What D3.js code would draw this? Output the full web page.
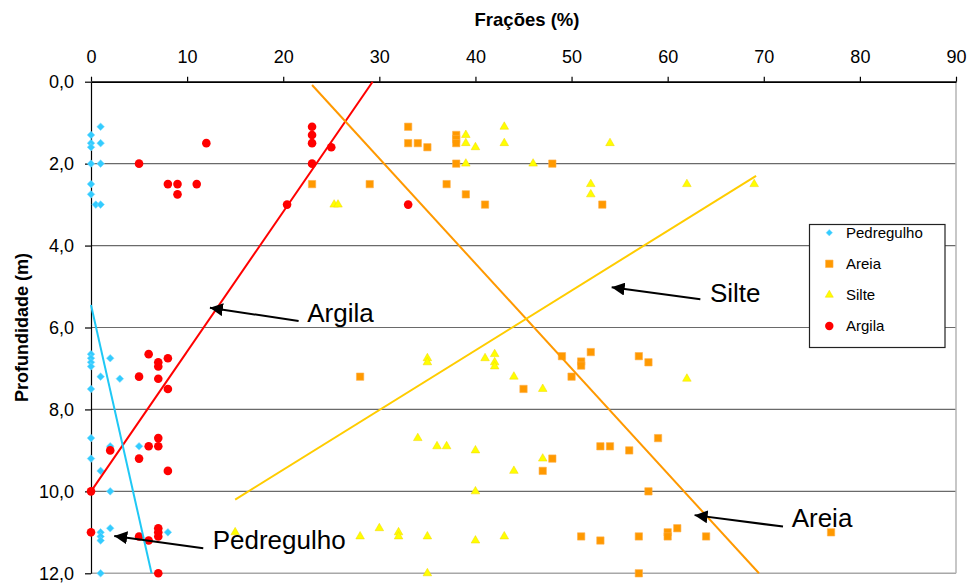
<!DOCTYPE html>
<html><head><meta charset="utf-8">
<script src="https://cdn.jsdelivr.net/npm/d3@7"></script>
<style>
body{margin:0;background:#fff}
svg{display:block;font-family:"Liberation Sans",Arial,Helvetica,sans-serif}
</style>
</head><body>
<svg id="c" width="968" height="583"></svg>
<script>
// ---- data (fraction %, depth m) ----
const xTicks=[0,10,20,30,40,50,60,70,80,90];
const yTicks=[0,2,4,6,8,10,12];
const seriesNames=["Pedregulho","Areia","Silte","Argila"];

const pedregulho=[[1,1.1],[0,1.3],[0,1.5],[1,1.5],[0,1.6],[0,2.0],[1,2.0],[0,2.5],[0,2.75],[0.5,3.0],[1,3.0],
 [0,6.65],[0,6.75],[0,6.85],[0,6.95],[2,6.75],[1,7.2],[3,7.25],[0,7.5],
 [0,8.7],[2,8.9],[5,8.9],[0,9.2],[1,9.5],[2,10.0],
 [2,10.9],[1,11.0],[1,11.1],[1,11.2],[8,11.0],[1,12.0]];

const areia=[[33,1.1],[33,1.5],[34,1.5],[35,1.6],[38,1.3],[38,1.4],[38,1.5],[38,2.0],[48,2.0],[23,2.5],[29,2.5],[37,2.5],[39,2.75],[41,3.0],[53.2,3.0],
 [28,7.2],[49,6.7],[51,6.83],[51,6.93],[52,6.6],[50,7.2],[45,7.5],[57,6.7],[58,6.85],
 [59,8.7],[53,8.9],[54,8.9],[56,9.0],[48,9.2],[47,9.5],[58,10.0],
 [51,11.1],[53,11.2],[57,11.1],[60,11.0],[60,11.1],[61,10.9],[64,11.1],[77,11.0],[57,12.0]];

const silte=[[39,1.3],[39,1.5],[40,1.6],[43,1.1],[43,1.5],[54,1.5],[39,2.0],[46,2.0],[52,2.5],[52,2.75],[62,2.5],[69,2.5],[25.3,3.0],[25.7,3.0],
 [35,6.75],[35,6.85],[41,6.75],[42,6.65],[42,6.85],[42,6.95],[44,7.2],[47,7.5],[62,7.25],
 [34,8.7],[36,8.9],[37,8.9],[40,9.0],[47,9.2],[44,9.5],[40,10.0],
 [15,11.0],[28,11.1],[30,10.9],[32,11.0],[32,11.1],[35,11.1],[40,11.2],[43,11.1],[35,12.0]];

const argila=[[23,1.1],[23,1.3],[23,1.5],[25,1.6],[12,1.5],[5,2.0],[23,2.0],[8,2.5],[9,2.5],[11,2.5],[9,2.75],[20.4,3.0],[33,3.0],
 [6,6.65],[7,6.85],[7,6.95],[8,6.75],[5,7.2],[7,7.25],[8,7.5],
 [7,8.7],[6,8.9],[7,8.9],[2,9.0],[5,9.2],[8,9.5],[0,10.0],
 [0,11.0],[7,10.9],[7,11.0],[7,11.1],[5,11.1],[6,11.2],[7,12.0]];

// trend lines (endpoints)
const lineArgila=[[29.3,0],[0,10]];
const lineAreia=[[23,0.08],[69.5,12]];
const lineSilte=[[15,10.2],[69.2,2.3]];
const linePedregulho=[[0,5.45],[6.3,12]];

// annotations: label, text anchor point, arrow tail, arrow tip
const annLabels=["Argila","Silte","Areia","Pedregulho"];
const annText=[[22.5,5.86],[64.4,5.37],[72.9,10.88],[12.66,11.41]];
const annTail=[[21.6,5.84],[63.4,5.31],[72.0,10.86],[11.68,11.39]];
const annTip=[[12.37,5.52],[54.17,5.02],[62.8,10.58],[2.42,11.09]];

// ---- drawing ----
const svg=d3.select("#c");
const x=d3.scaleLinear().domain([0,90]).range([91,956]);
const y=d3.scaleLinear().domain([0,12]).range([81.7,573.3]);

const colors={Pedregulho:"#33CCFF",Areia:"#FF9900",Silte:"#FFFF00",Argila:"#FF0000"};

// grid lines
svg.append("g").selectAll("line").data(yTicks.filter(d=>d>0&&d<12)).join("line")
 .attr("x1",x(0)).attr("x2",x(90)).attr("y1",d=>y(d)).attr("y2",d=>y(d))
 .attr("stroke","#6a6a6a").attr("stroke-width",1.2);
svg.append("line").attr("x1",x(0)).attr("x2",x(90)).attr("y1",y(12)).attr("y2",y(12))
 .attr("stroke","#a8a8a8").attr("stroke-width",1.5);
svg.append("line").attr("x1",x(90)).attr("x2",x(90)).attr("y1",y(0)).attr("y2",y(12))
 .attr("stroke","#b4b4b4").attr("stroke-width",1.5);

// axes
const xAxis=svg.append("g").attr("transform",`translate(0,${y(0)})`)
 .call(d3.axisTop(x).tickValues(xTicks).tickSize(5).tickSizeOuter(0).tickPadding(14).tickFormat(d3.format("d")));
xAxis.select(".domain").attr("stroke","#000").attr("stroke-width",1.8);
xAxis.selectAll(".tick line").attr("stroke","#000").attr("stroke-width",1.2);
xAxis.selectAll("text").attr("font-size",18).attr("fill","#000").attr("font-family",null);

const yAxis=svg.append("g").attr("transform",`translate(${x(0)},0)`)
 .call(d3.axisLeft(y).tickValues(yTicks).tickSize(6).tickSizeOuter(0).tickPadding(11)
 .tickFormat(d=>d3.format(".1f")(d).replace(".",",")));
yAxis.select(".domain").attr("stroke","#000").attr("stroke-width",1.2);
yAxis.selectAll(".tick line").attr("stroke","#000").attr("stroke-width",1.2);
yAxis.selectAll("text").attr("font-size",18).attr("fill","#000").attr("font-family",null);

// axis titles
svg.append("text").attr("x",527).attr("y",26).attr("text-anchor","middle")
 .attr("font-size",18.5).attr("font-weight","bold").text("Frações (%)");
svg.append("text").attr("transform",`translate(28,${(y(0)+y(12))/2}) rotate(-90)`)
 .attr("text-anchor","middle").attr("font-size",18).attr("font-weight","bold").text("Profundidade (m)");

// markers
const diamond=r=>`M0,${-r}L${r},0L0,${r}L${-r},0Z`;
function drawMarkers(g,name,data){
  const sel=g.selectAll("path."+name).data(data).join("path").attr("class",name)
   .attr("transform",d=>`translate(${x(d[0])},${y(d[1])})`);
  styleMarker(sel,name,false);
}
function styleMarker(sel,name,leg){
  if(name==="Pedregulho") sel.attr("d",diamond(leg?3.2:3.8)).attr("fill",colors[name]).attr("stroke","#7fdcff").attr("stroke-width",0.6);
  if(name==="Areia") sel.attr("d",d3.symbol(d3.symbolSquare,leg?56:54)()).attr("fill",colors[name]).attr("stroke","#ffb04a").attr("stroke-width",0.6);
  if(name==="Silte") sel.attr("d",d3.symbol(d3.symbolTriangle,leg?28:32)()).attr("fill",colors[name]).attr("stroke","#f2d400").attr("stroke-width",0.5);
  if(name==="Argila") sel.attr("d",d3.symbol(d3.symbolCircle,leg?56:58)()).attr("fill",colors[name]);
}
const mg=svg.append("g");
drawMarkers(mg,"Pedregulho",pedregulho);
drawMarkers(mg,"Areia",areia);
drawMarkers(mg,"Silte",silte);
drawMarkers(mg,"Argila",argila);

// trend lines
const lg=d3.line().x(d=>x(d[0])).y(d=>y(d[1]));
const trend=[[lineArgila,"#FF0000"],[lineAreia,"#FF9900"],[lineSilte,"#FFCC00"],[linePedregulho,"#1FC8F5"]];
svg.append("g").selectAll("path").data(trend).join("path")
 .attr("d",d=>lg(d[0])).attr("stroke",d=>d[1]).attr("stroke-width",2).attr("fill","none");

// legend
const legX=809.5, legY=224.5;
const leg=svg.append("g");
leg.append("rect").attr("x",legX).attr("y",legY).attr("width",135.5).attr("height",123)
 .attr("fill","#fff").attr("stroke","#222").attr("stroke-width",1.2);
seriesNames.forEach((n,i)=>{
  const cy=232.7+i*31.1;
  const m=leg.append("path").attr("transform",`translate(829.3,${cy})`);
  styleMarker(m,n,true);
  leg.append("text").attr("x",846).attr("y",cy).attr("dy","0.36em").attr("font-size",15).text(n);
});

// annotations
svg.append("defs").append("marker").attr("id","ah").attr("viewBox","0 0 10 10")
 .attr("refX",10).attr("refY",5).attr("markerWidth",6.5).attr("markerHeight",6.5)
 .attr("markerUnits","strokeWidth").attr("orient","auto")
 .append("path").attr("d","M0,0L10,5L0,10Z").attr("fill","#000");
const ag=svg.append("g");
annLabels.forEach((t,i)=>{
  ag.append("line").attr("x1",x(annTail[i][0])).attr("y1",y(annTail[i][1]))
   .attr("x2",x(annTip[i][0])).attr("y2",y(annTip[i][1]))
   .attr("stroke","#000").attr("stroke-width",2).attr("marker-end","url(#ah)");
  ag.append("text").attr("x",x(annText[i][0])).attr("y",y(annText[i][1]))
   .attr("font-size",26).attr("fill","#000").text(t);
});
</script>
</body></html>
